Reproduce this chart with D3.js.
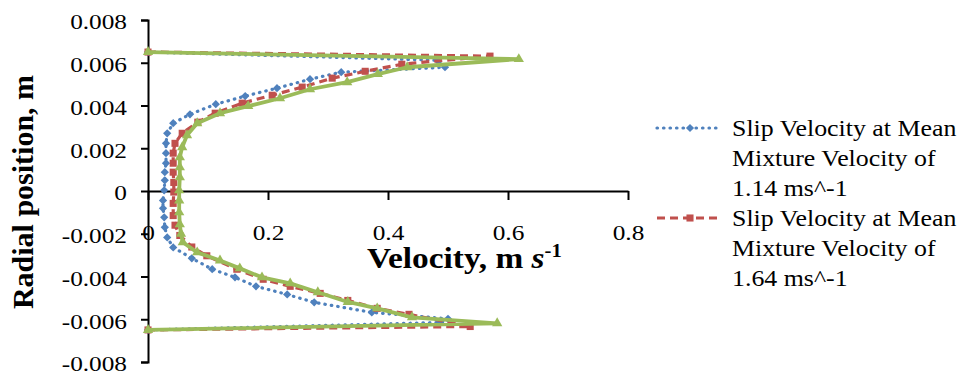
<!DOCTYPE html>
<html>
<head>
<meta charset="utf-8">
<script src="https://cdn.jsdelivr.net/npm/d3@7"></script>
<style>
  body { margin: 0; background: #fff; }
  svg { display: block; font-family: "Liberation Serif", "Times New Roman", serif; }
</style>
</head>
<body>
<svg id="chart" width="961" height="372"></svg>
<script>
// radial position (m) and slip velocity (m/s)
var radial114 = [0.0065, 0.00612, 0.00579, 0.00556, 0.00523, 0.00481, 0.00444, 0.00406, 0.00359, 0.00317,
  0.00270, 0.00223, 0.00177, 0.00130, 0.00088, 0.00050, 0.00003, -0.00044, -0.00081, -0.00123,
  -0.00170, -0.00217, -0.00264, -0.00315, -0.00366, -0.00404, -0.00446, -0.00484, -0.00521, -0.00568,
  -0.00598, -0.00615, -0.0065];
var slip114 = [0, 0.482, 0.495, 0.322, 0.270, 0.215, 0.162, 0.113, 0.070, 0.042,
  0.032, 0.030, 0.030, 0.030, 0.028, 0.028, 0.027, 0.025, 0.025, 0.027,
  0.028, 0.032, 0.042, 0.073, 0.107, 0.145, 0.180, 0.232, 0.277, 0.373,
  0.500, 0.487, 0];

var radial164 = [0.0065, 0.00631, 0.00593, 0.00560, 0.00528, 0.00486, 0.00448, 0.00411, 0.00364, 0.00322,
  0.00270, 0.00223, 0.00177, 0.00130, 0.00088, 0.00040, -0.00005, -0.00058, -0.00115, -0.00160,
  -0.00208, -0.00262, -0.00303, -0.00366, -0.00413, -0.00446, -0.00479, -0.00512, -0.00549, -0.00577,
  -0.00634, -0.0065];
var slip164 = [0, 0.570, 0.423, 0.362, 0.307, 0.257, 0.207, 0.157, 0.112, 0.083,
  0.057, 0.045, 0.042, 0.042, 0.042, 0.043, 0.043, 0.042, 0.042, 0.045,
  0.053, 0.073, 0.098, 0.148, 0.192, 0.237, 0.287, 0.333, 0.382, 0.435,
  0.537, 0];

var radialHigh = [0.0065, 0.00617, 0.00579, 0.00547, 0.00509, 0.00476, 0.00434, 0.00397, 0.00364, 0.00317,
  0.00261, 0.00205, 0.00158, 0.00111, 0.00064, 0.00003, -0.00044, -0.00100, -0.00156, -0.00200,
  -0.00240, -0.00287, -0.00325, -0.00362, -0.00404, -0.00432, -0.00474, -0.00519, -0.00549, -0.00591,
  -0.00619, -0.0065];
var slipHigh = [0, 0.618, 0.432, 0.383, 0.332, 0.270, 0.220, 0.167, 0.120, 0.082,
  0.065, 0.057, 0.053, 0.053, 0.053, 0.052, 0.052, 0.052, 0.053, 0.055,
  0.058, 0.082, 0.120, 0.153, 0.190, 0.237, 0.283, 0.333, 0.382, 0.440,
  0.582, 0];

var xTicks = [0, 0.2, 0.4, 0.6, 0.8];
var yTicks = [-0.008, -0.006, -0.004, -0.002, 0, 0.002, 0.004, 0.006, 0.008];
var legendLines = [
  ["Slip Velocity at Mean", "Mixture Velocity of", "1.14 ms^-1"],
  ["Slip Velocity at Mean", "Mixture Velocity of", "1.64 ms^-1"]
];

var SX = 1.15; // the picture is stretched sideways a bit

var svg = d3.select("#chart");

var x = d3.scaleLinear().domain([0, 0.8]).range([148, 628]);
var y = d3.scaleLinear().domain([-0.008, 0.008]).range([362, 20]);

// axes
var yAxis = svg.append("g")
  .attr("transform", "translate(" + x(0) + ",0)")
  .call(d3.axisLeft(y).tickValues(yTicks).tickSize(7).tickPadding(14)
    .tickFormat(function(d){ return d === 0 ? "0" : d3.format(".3f")(d).replace("−", "-"); }));
yAxis.attr("font-family", null);
yAxis.select(".domain").attr("stroke-width", 2);
yAxis.selectAll(".tick line").attr("stroke-width", 2);
yAxis.selectAll(".tick text")
  .attr("font-size", 22).attr("fill", "#000")
  .attr("x", -21 / SX).attr("dy", "0.4em")
  .attr("transform", "scale(" + SX + ",1)");

var xAxis = svg.append("g")
  .attr("transform", "translate(0," + y(0) + ")")
  .call(d3.axisBottom(x).tickValues(xTicks).tickSize(9).tickSizeOuter(0)
    .tickFormat(function(d){ return d === 0 ? "0" : d3.format(".1f")(d); }));
xAxis.attr("font-family", null);
xAxis.select(".domain").attr("stroke-width", 2);
xAxis.selectAll(".tick line").attr("stroke-width", 2);
xAxis.selectAll(".tick text")
  .attr("font-size", 22).attr("fill", "#000")
  .attr("y", 41).attr("dy", "0.35em")
  .attr("transform", "scale(" + SX + ",1)");

// series
var series = [
  {r: radial114, v: slip114, color: "#4F81BD", dash: "0.5,6", cap: "round", width: 3.2, sym: "diamond"},
  {r: radial164, v: slip164, color: "#C0504D", dash: "8,5", cap: "butt", width: 3.2, sym: "square"},
  {r: radialHigh, v: slipHigh, color: "#9BBB59", dash: null, cap: "round", width: 3.8, sym: "triangle"}
];

function marker(g, s, px, py) {
  if (s.sym === "diamond") {
    g.append("path").attr("d", d3.symbol(d3.symbolSquare, 34)())
      .attr("transform", "translate(" + px + "," + py + ") rotate(45)")
      .attr("fill", s.color);
  } else if (s.sym === "square") {
    g.append("path").attr("d", d3.symbol(d3.symbolSquare, 50)())
      .attr("transform", "translate(" + px + "," + py + ")")
      .attr("fill", s.color);
  } else {
    g.append("path").attr("d", d3.symbol(d3.symbolTriangle, 46)())
      .attr("transform", "translate(" + px + "," + py + ")")
      .attr("fill", s.color);
  }
}

var line = d3.line().x(function(d){ return x(d[0]); }).y(function(d){ return y(d[1]); });

series.forEach(function(s){
  var pts = s.v.map(function(v, i){ return [v, s.r[i]]; });
  var g = svg.append("g");
  g.append("path").datum(pts).attr("d", line)
    .attr("fill", "none").attr("stroke", s.color).attr("stroke-width", s.width)
    .attr("stroke-linecap", s.cap).attr("stroke-linejoin", "round")
    .attr("stroke-dasharray", s.dash);
  pts.forEach(function(p){ marker(g, s, x(p[0]), y(p[1])); });
});

// axis titles
svg.append("text")
  .attr("transform", "translate(33,192) rotate(-90)")
  .attr("text-anchor", "middle").attr("font-size", 30).attr("font-weight", "bold")
  .text("Radial position, m");

var xt = svg.append("text")
  .attr("transform", "translate(367,268) scale(" + SX + ",1)")
  .attr("font-size", 29).attr("font-weight", "bold");
xt.append("tspan").text("Velocity, m ");
xt.append("tspan").attr("font-style", "italic").text("s");
xt.append("tspan").attr("font-size", 18).attr("dy", -11).text("-1");

// legend
var legendY = [128, 218];
[series[0], series[1]].forEach(function(s, i){
  var g = svg.append("g");
  g.append("line").attr("x1", 657).attr("x2", 720).attr("y1", legendY[i]).attr("y2", legendY[i])
    .attr("stroke", s.color).attr("stroke-width", s.width)
    .attr("stroke-linecap", s.cap).attr("stroke-dasharray", s.dash);
  marker(g, s, 690, legendY[i]);
  legendLines[i].forEach(function(t, k){
    g.append("text")
      .attr("transform", "translate(732," + (legendY[i] + 8 + k * 30) + ") scale(" + SX + ",1)")
      .attr("font-size", 22.5).attr("fill", "#000")
      .text(t);
  });
});
</script>
</body>
</html>
